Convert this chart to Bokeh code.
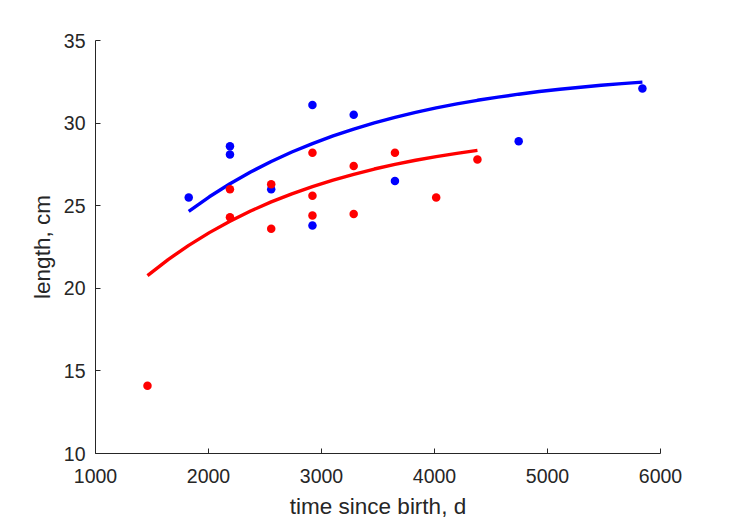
from bokeh.plotting import figure
from bokeh.models import Range1d, FixedTicker
from bokeh.embed import file_html
from bokeh.resources import INLINE

# Observed data (time since birth in days, length in cm)
blue_days = [1825, 2190, 2190, 2555, 2920, 2920, 3285, 3650, 4745, 5840]
blue_length = [25.5, 28.6, 28.1, 26.0, 31.1, 23.8, 30.5, 26.5, 28.9, 32.1]

red_days = [1460, 2190, 2190, 2555, 2555, 2920, 2920, 2920, 3285, 3285, 3650, 4015, 4380]
red_length = [14.1, 26.0, 24.3, 26.3, 23.6, 28.2, 25.6, 24.4, 27.4, 24.5, 28.2, 25.5, 27.8]

# Fitted growth curves (every half year)
blue_fit_days = [1825, 2007.5, 2190, 2372.5, 2555, 2737.5, 2920, 3102.5, 3285, 3467.5,
                 3650, 3832.5, 4015, 4197.5, 4380, 4562.5, 4745, 4927.5, 5110, 5292.5,
                 5475, 5657.5, 5840]
blue_fit_length = [24.66, 25.54, 26.33, 27.04, 27.68, 28.25, 28.76, 29.23, 29.64, 30.01,
                   30.35, 30.65, 30.92, 31.16, 31.38, 31.57, 31.75, 31.91, 32.05, 32.17,
                   32.29, 32.39, 32.48]

red_fit_days = [1460, 1642.5, 1825, 2007.5, 2190, 2372.5, 2555, 2737.5, 2920, 3102.5,
                3285, 3467.5, 3650, 3832.5, 4015, 4197.5, 4380]
red_fit_length = [20.77, 21.74, 22.60, 23.37, 24.06, 24.68, 25.23, 25.72, 26.16, 26.55,
                  26.90, 27.22, 27.50, 27.75, 27.97, 28.17, 28.35]

x_ticks = [1000, 2000, 3000, 4000, 5000, 6000]
y_ticks = [10, 15, 20, 25, 30, 35]

FONT = "Liberation Sans"
DARK = "#262626"

p = figure(width=729, height=521, output_backend="svg", toolbar_location=None,
           x_range=Range1d(1000, 6000), y_range=Range1d(10, 35),
           min_border_left=95, min_border_right=69, min_border_top=40,
           min_border_bottom=68)
p.outline_line_color = None
p.xgrid.visible = False
p.ygrid.visible = False
p.background_fill_color = "white"
p.border_fill_color = "white"

p.line(blue_fit_days, blue_fit_length, line_color="#0000FF", line_width=3.4)
p.line(red_fit_days, red_fit_length, line_color="#FF0000", line_width=3.4)
p.scatter(blue_days, blue_length, size=8.5, fill_color="#0000FF", line_color=None)
p.scatter(red_days, red_length, size=8.5, fill_color="#FF0000", line_color=None)

for ax, ticks in ((p.xaxis, x_ticks), (p.yaxis, y_ticks)):
    ax.ticker = FixedTicker(ticks=ticks)
    ax.axis_line_color = DARK
    ax.axis_line_width = 1
    ax.major_tick_line_color = DARK
    ax.major_tick_in = 5
    ax.major_tick_out = 0
    ax.minor_tick_line_color = None
    ax.major_label_text_font = FONT
    ax.major_label_text_font_size = "19.5px"
    ax.major_label_text_color = DARK
    ax.axis_label_text_font = FONT
    ax.axis_label_text_font_size = "22.5px"
    ax.axis_label_text_font_style = "normal"
    ax.axis_label_text_color = DARK

p.xaxis.axis_label = "time since birth, d"
p.yaxis.axis_label = "length, cm"
p.xaxis.major_label_standoff = 15
p.yaxis.major_label_standoff = 10
p.xaxis.axis_label_standoff = 8
p.yaxis.axis_label_standoff = 6

open("out.html", "w").write(file_html(p, INLINE))
